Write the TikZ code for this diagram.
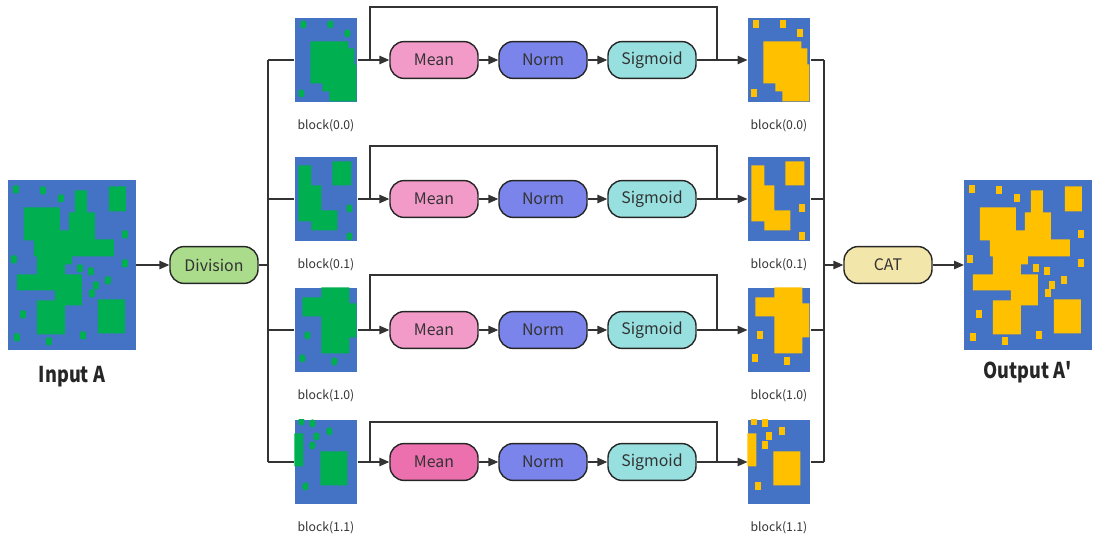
\documentclass[tikz,border=0pt]{standalone}
\usepackage{fontspec}
\setmainfont{Noto Sans CJK SC}
\usetikzlibrary{arrows.meta}
\definecolor{blu}{HTML}{4472C4}
\definecolor{grn}{HTML}{00B050}
\definecolor{ylw}{HTML}{FFC000}
\definecolor{meanc}{HTML}{F29AC8}
\definecolor{meand}{HTML}{EC6FAE}
\definecolor{normc}{HTML}{7A84EA}
\definecolor{sigc}{HTML}{98E0E0}
\definecolor{divc}{HTML}{AADC8C}
\definecolor{catc}{HTML}{F2E6AA}
\newcommand {\spot}[2] {\fill[spot] ({#1-3},{#2-4}) rectangle ({#1+3},{#2+4});}
% block patterns, px from the top left corner
\newcommand {\blkA} {\fill[ink] (16,24) rectangle (54,66) (43,31) rectangle (60,84)
                        (54,47) rectangle (62,84) (28,66) rectangle (43,74) (35,74) rectangle (43,84);
                     \spot{9}{7}\spot{36}{7}\spot{53}{16}\spot{7}{76}}
\newcommand {\blkB} {\fill[ink] (4,9) rectangle (17,65) (17,29) rectangle (27,74)
                        (27,54) rectangle (43,74) (38,5) rectangle (57,29);
                     \spot{55}{52}\spot{55}{80}}
\newcommand {\blkC} {\fill[ink] (27,0) rectangle (55,18) (8,10) rectangle (55,29)
                        (27,29) rectangle (55,66) (55,16) rectangle (62,50);
                     \spot{13}{48}\spot{8}{71}\spot{40}{74}}
\newcommand {\blkD} {\fill[ink] (0,14) rectangle (9,47) (26,32) rectangle (53,66);
                     \spot{7}{2}\spot{18}{4}\spot{35}{12}\spot{22}{17}\spot{18}{26}\spot{11}{67}}
\newcommand {\bigpat} {\fill[ink] (16,28) rectangle (52,61) (67,11) rectangle (79,38)
                        (61,33) rectangle (87,60) (52,51) rectangle (61,60) (26,60) rectangle (106,77)
                        (29,77) rectangle (64,85) (29,85) rectangle (57,95) (9,95) rectangle (74,111)
                        (47,103) rectangle (74,126) (29,121) rectangle (57,155)
                        (101,7) rectangle (118,32) (90,120) rectangle (117,154);
                       \spot{8}{10}\spot{35}{11}\spot{53}{19}\spot{117}{55}\spot{6}{80}\spot{117}{84}
                       \spot{72}{89}\spot{83}{92}\spot{100}{101}\spot{88}{106}\spot{84}{114}
                       \spot{15}{135}\spot{9}{158}\spot{41}{162}\spot{75}{156}}

\begin{document}
\begin{tikzpicture}[x=0.025cm, y=-0.025cm, line width=0.8pt, draw=black!80,
    arr/.style={-{Triangle[length=7pt,width=6pt]}},
    op/.style={draw=black!85, line width=1pt, rounded corners=10pt, minimum width=2.2cm,
               minimum height=0.92cm, inner sep=0, font=\fontsize{11.3}{14}\selectfont, text=black!80},
    img/.style={fill=blu, inner sep=0, minimum width=1.55cm, minimum height=2.1cm},
    bigimg/.style={img, minimum width=3.175cm, minimum height=4.25cm},
    lbl/.style={font=\fontsize{8.7}{11}\selectfont, text=black!80},
    ttl/.style={font=\bfseries\fontsize{15.5}{18}\selectfont\addfontfeature{FakeStretch=0.83}, text=black!85}]
	\useasboundingbox (0,0) rectangle (1101,543);
	% input and output
	\node[bigimg] (inA) at (72,265) {};
	\begin{scope}[shift={(inA.north west)}, ink/.style={fill=grn}, spot/.style={fill=grn, rounded corners=1pt}]
		\bigpat
	\end{scope}
	\node[ttl] (inL) at (72,377) {Input A};
	\node[bigimg] (outA) at (1028,265) {};
	\begin{scope}[shift={(outA.north west)}, ink/.style={fill=ylw}, spot/.style={fill=ylw}]
		\bigpat
	\end{scope}
	\node[ttl] (outL) at (1028,372) {Output A\textquotesingle};
	\node[op, fill=divc] (div) at (214,265) {Division};
	\node[op, fill=catc] (cat) at (888,265) {CAT};
	\coordinate (spl) at (268,265);
	\coordinate (mrg) at (824,265);
	% the four blocks
	\foreach \i/\y/\yt/\mc/\pat/\lab in {1/60/7/meanc/\blkA/0.0, 2/199/146/meanc/\blkB/0.1,
	                                    3/330/275/meanc/\blkC/1.0, 4/462/422/meand/\blkD/1.1} {
		\node[img] (bl\i) at (326,\y) {};
		\begin{scope}[shift={(bl\i.north west)}, ink/.style={fill=grn}, spot/.style={fill=grn, rounded corners=2pt}]
			\clip (0,0) rectangle (62,84);
			\pat
		\end{scope}
		\node[lbl] (bll\i) at (326,\y+66) {block(\lab)};
		\node[img] (br\i) at (779,\y) {};
		\begin{scope}[shift={(br\i.north west)}, ink/.style={fill=ylw}, spot/.style={fill=ylw}]
			\clip (0,0) rectangle (62,84);
			\pat
		\end{scope}
		\node[lbl] (brl\i) at (779,\y+66) {block(\lab)};
		\node[op, fill=\mc] (mean\i) at (434,\y) {Mean};
		\node[op, fill=normc] (norm\i) at (543,\y) {Norm};
		\node[op, fill=sigc] (sig\i) at (652,\y) {Sigmoid};
		\coordinate (sa\i) at (370,\y);
		\coordinate (sb\i) at (717,\y);
		\draw (spl |- bl\i) -- (bl\i.west);
		\draw[arr] (bl\i) -- (mean\i);
		\draw[arr] (mean\i) -- (norm\i);
		\draw[arr] (norm\i) -- (sig\i);
		\draw[arr] (sig\i) -- (br\i);
		\draw (sa\i) |- (717,\yt) -- (sb\i);
		\draw (br\i.east) -- (br\i.east -| mrg);
	}
	\draw (spl |- bl1) -- (spl |- bl4);
	\draw (mrg |- br1) -- (mrg |- br4);
	\draw[arr] (inA) -- (div);
	\draw (div) -- (spl);
	\draw[arr] (mrg) -- (cat);
	\draw[arr] (cat) -- (outA);
\end{tikzpicture}
\end{document}
